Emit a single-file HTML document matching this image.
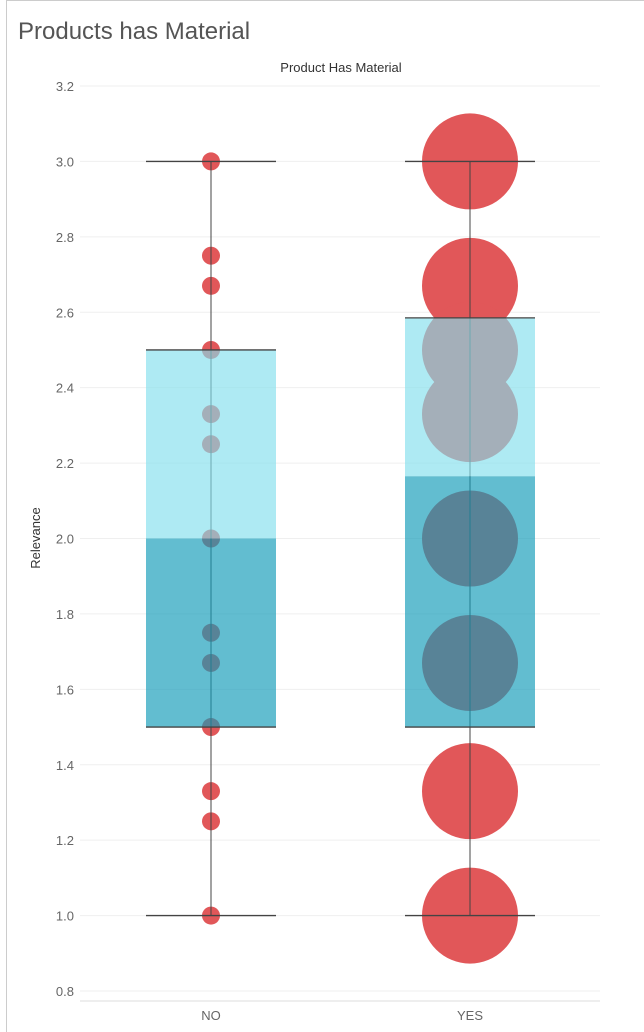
<!DOCTYPE html>
<html><head><meta charset="utf-8"><style>
body{margin:0;background:#fff;font-family:"Liberation Sans",sans-serif}
</style></head><body>
<svg width="644" height="1032" style="display:block">
<line x1="6.5" y1="0" x2="6.5" y2="1032" stroke="#ccc"/>
<line x1="6" y1="0.5" x2="644" y2="0.5" stroke="#ccc"/>
<text x="18" y="39" font-size="24" fill="#555">Products has Material</text>
<text x="341" y="72" font-size="13" fill="#333" text-anchor="middle">Product Has Material</text>
<text transform="translate(40,538) rotate(-90)" font-size="13" fill="#333" text-anchor="middle">Relevance</text>
<g id="grid"></g><g id="ticks"></g><g id="dots"></g><g id="whisk"></g><g id="boxes"></g><g id="xl"></g>
</svg>
<script>
const categories=["NO","YES"];
const q1=[1.5,1.5];
const median=[2.0,2.165];
const q3=[2.5,2.585];
const whiskLow=[1.0,1.0];
const whiskHigh=[3.0,3.0];
const noValues=[3.0,2.75,2.67,2.5,2.33,2.25,2.0,1.75,1.67,1.5,1.33,1.25,1.0];
const yesValues=[3.0,2.67,2.5,2.33,2.0,1.67,1.33,1.0];
const yTicks=["0.8","1.0","1.2","1.4","1.6","1.8","2.0","2.2","2.4","2.6","2.8","3.0","3.2"];
const NS="http://www.w3.org/2000/svg";
function y(v){return 86+(3.2-v)/2.4*905;}
function x(i){return 211+i*259;}
function mk(t,a,p){const e=document.createElementNS(NS,t);for(const k in a)e.setAttribute(k,a[k]);document.getElementById(p).appendChild(e);return e;}
yTicks.forEach(t=>{const v=+t;
 const g=mk('line',{x1:80,x2:600,y1:y(v),y2:y(v),stroke:'#efefef'},'grid');
 
 
 const l=mk('text',{x:74,y:y(v)+5,'font-size':13,fill:'#666','text-anchor':'end'},'ticks');
 l.textContent=t;
 
 
});
const base=mk('line',{x1:80,x2:600,y1:1001,y2:1001,stroke:'#ddd'},'grid');


[noValues,yesValues].forEach((arr,i)=>{const r=i?48:9;arr.forEach(v=>{
 const c=mk('circle',{cx:x(i),cy:y(v),r:r,fill:'#e15759'},'dots');
 
 
});});
categories.forEach((c,i)=>{const cx=x(i);
 const w=mk('line',{x1:cx,x2:cx,y1:y(whiskHigh[i]),y2:y(whiskLow[i]),stroke:'#444'},'whisk');
 
 
 const up=mk('rect',{x:cx-65,width:130,y:y(q3[i]),height:y(median[i])-y(q3[i]),fill:'rgba(130,223,237,0.65)'},'boxes');
 
 
 const lo=mk('rect',{x:cx-65,width:130,y:y(median[i]),height:y(q1[i])-y(median[i]),fill:'rgba(17,155,183,0.66)'},'boxes');
 
 
 [whiskHigh[i],q3[i],q1[i],whiskLow[i]].forEach(v=>{
  const h=mk('line',{x1:cx-65,x2:cx+65,y1:y(v),y2:y(v),stroke:'#444','stroke-width':1.3},'boxes');
  
  
 });
 const t=mk('text',{x:cx,y:1020,'font-size':13,fill:'#666','text-anchor':'middle'},'xl');
 t.textContent=c;
 
 
});
</script>
</body></html>
